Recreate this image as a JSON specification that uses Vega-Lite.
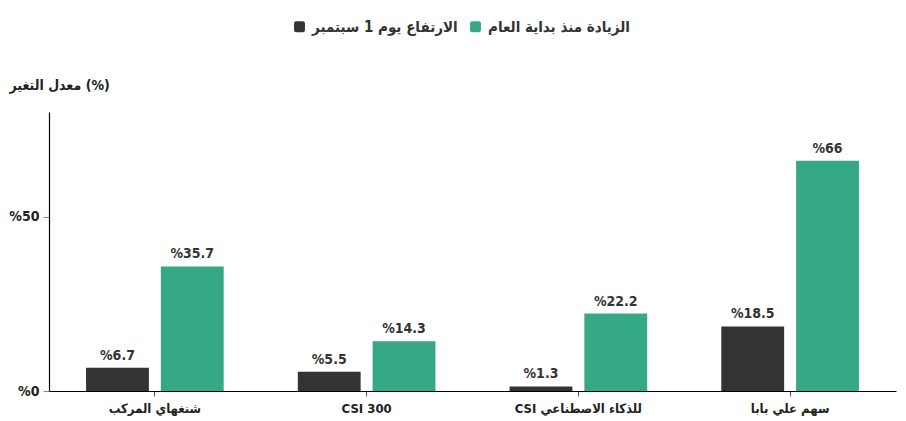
{
  "$schema": "https://vega.github.io/schema/vega-lite/v6.json",
  "width": 847,
  "height": 279,
  "autosize": {"type": "none"},
  "padding": {"left": 49, "top": 112, "right": 10, "bottom": 30},
  "background": "white",
  "config": {"view": {"stroke": null}, "font": "DejaVu Sans Condensed"},
  "data": {
    "values": [
      {"cat": "شنغهاي المركب", "series": "الارتفاع يوم 1 سبتمبر", "value": 6.7},
      {"cat": "شنغهاي المركب", "series": "الزيادة منذ بداية العام", "value": 35.7},
      {"cat": "CSI 300", "series": "الارتفاع يوم 1 سبتمبر", "value": 5.5},
      {"cat": "CSI 300", "series": "الزيادة منذ بداية العام", "value": 14.3},
      {"cat": "‏CSI للذكاء الاصطناعي", "series": "الارتفاع يوم 1 سبتمبر", "value": 1.3},
      {"cat": "‏CSI للذكاء الاصطناعي", "series": "الزيادة منذ بداية العام", "value": 22.2},
      {"cat": "سهم علي بابا", "series": "الارتفاع يوم 1 سبتمبر", "value": 18.5},
      {"cat": "سهم علي بابا", "series": "الزيادة منذ بداية العام", "value": 66}
    ]
  },
  "encoding": {
    "x": {
      "field": "cat", "type": "nominal", "sort": null,
      "scale": {"paddingInner": 0.35, "paddingOuter": 0.175},
      "axis": {
        "title": null, "labelAngle": 0, "domainColor": "#000", "domainWidth": 1.2,
        "tickColor": "#555", "tickSize": 5, "labelFontSize": 13, "labelFontWeight": "bold",
        "labelColor": "#222", "labelPadding": 6
      }
    },
    "xOffset": {
      "field": "series", "type": "nominal",
      "sort": ["الارتفاع يوم 1 سبتمبر", "الزيادة منذ بداية العام"],
      "scale": {"paddingInner": 0.16, "paddingOuter": 0}
    },
    "y": {
      "field": "value", "type": "quantitative",
      "scale": {"domain": [0, 80], "nice": false},
      "axis": {
        "values": [0, 50], "grid": false, "domainColor": "#000", "domainWidth": 1.2,
        "tickColor": "#888", "tickSize": 6, "labelExpr": "'%' + datum.value",
        "labelFontSize": 14, "labelFontWeight": "bold", "labelColor": "#222", "labelPadding": 4,
        "title": "معدل التغير (%)", "titleAngle": 0, "titleAlign": "left", "titleBaseline": "middle",
        "titleX": -40, "titleY": -27, "titleFontSize": 14, "titleFontWeight": "bold",
        "titleColor": "#222"
      }
    }
  },
  "layer": [
    {
      "mark": {"type": "bar"},
      "encoding": {
        "color": {
          "field": "series", "type": "nominal",
          "sort": ["الارتفاع يوم 1 سبتمبر", "الزيادة منذ بداية العام"],
          "scale": {"domain": ["الارتفاع يوم 1 سبتمبر", "الزيادة منذ بداية العام"], "range": ["#333333", "#35a886"]},
          "legend": {
            "title": null, "orient": "none", "direction": "horizontal",
            "legendX": 243, "legendY": -93, "labelLimit": 400,
            "symbolType": "M-0.6,-1H0.6Q1,-1 1,-0.6V0.6Q1,1 0.6,1H-0.6Q-1,1 -1,0.6V-0.6Q-1,-1 -0.6,-1Z",
            "symbolSize": 120, "symbolOpacity": 1, "symbolStrokeWidth": 0,
            "labelFontSize": 15, "labelFontWeight": "bold", "labelColor": "#333",
            "columnPadding": 10, "labelOffset": 5
          }
        }
      }
    },
    {
      "mark": {"type": "text", "dy": -12, "fontSize": 14, "fontWeight": "bold", "color": "#333"},
      "encoding": {
        "text": {"field": "label"}
      },
      "transform": [{"calculate": "'%' + datum.value", "as": "label"}]
    }
  ]
}
